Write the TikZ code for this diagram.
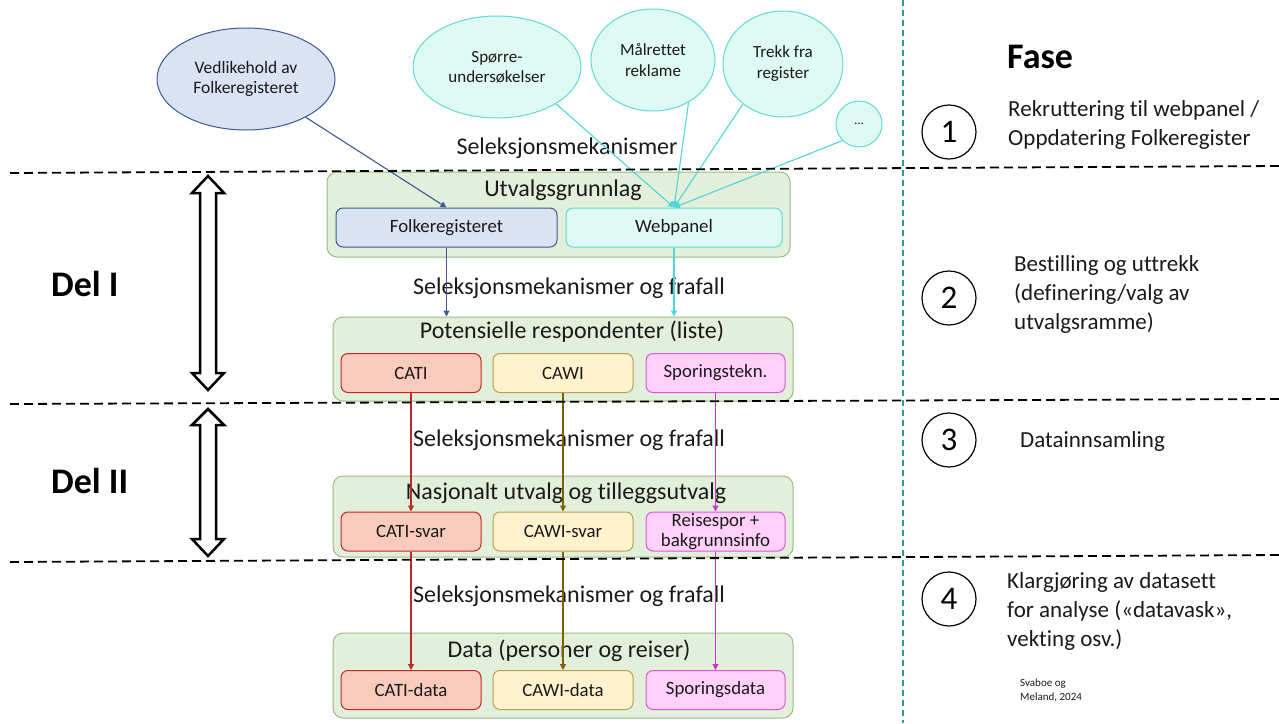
\documentclass[tikz,border=0pt]{standalone}
\usepackage{fontspec}
\setmainfont{Carlito}[Ligatures=NoCommon]
\usetikzlibrary{arrows.meta,shapes.geometric}
\definecolor{grpfill}{HTML}{E2EFDA}
\definecolor{grpdraw}{HTML}{9CB987}
\definecolor{bluefill}{HTML}{DAE3F3}
\definecolor{bluedraw}{HTML}{3B5A94}
\definecolor{tealfill}{HTML}{DFFAF3}
\definecolor{tealdraw}{HTML}{5EDAD8}
\definecolor{tealarrow}{HTML}{4FD6D6}
\definecolor{catifill}{HTML}{F8CBBD}
\definecolor{catidraw}{HTML}{C0282A}
\definecolor{cawifill}{HTML}{FFF2CC}
\definecolor{cawidraw}{HTML}{B8A050}
\definecolor{cawiarrow}{HTML}{7F6000}
\definecolor{sporfill}{HTML}{FFD0FA}
\definecolor{spordraw}{HTML}{E055E0}
\definecolor{sporarrow}{HTML}{CC33CC}
\definecolor{vline}{HTML}{2E9B9B}
\definecolor{txt}{HTML}{1A1A1A}
\begin{document}
\begin{tikzpicture}[x=1pt,y=-1pt,
  grp/.style={draw=grpdraw, fill=grpfill, rounded corners=10pt, line width=1pt, minimum width=460pt, inner sep=0pt},
  subbox/.style={rounded corners=7pt, line width=1pt, minimum height=39pt, inner sep=0pt, font=\fontsize{18.8}{19.5}\selectfont, text=txt, align=center},
  ttl/.style={font=\fontsize{24}{28}\selectfont, text=txt, inner sep=0pt},
  bub/.style={ellipse, line width=1pt, inner sep=0pt, align=center, text=txt},
  arr/.style={line width=1.1pt, -{Triangle[length=6pt,width=6pt]}},
  phase/.style={font=\fontsize{23}{29}\selectfont, text=txt, align=left, anchor=west, inner sep=0pt},
  num/.style={circle, draw, line width=1.2pt, minimum size=54pt, inner sep=0pt, font=\fontsize{33}{33}\selectfont},
  sepline/.style={line width=1.8pt, dash pattern=on 9pt off 5pt},
  dbl/.style={line width=2.5pt, fill=white, line join=miter}
]
\useasboundingbox (0,0) rectangle (1279,723);

% vertical separator
\coordinate (vt) at (903,0);
\coordinate (vb) at (903,723);
\draw[vline, line width=2pt, dash pattern=on 6pt off 4pt] (vt) -- (vb);

% bubbles
\node[bub, draw=bluedraw, fill=bluefill, minimum width=178pt, minimum height=102pt, font=\fontsize{17.5}{19.5}\selectfont] (vedl) at (246,79) {Vedlikehold av\\Folkeregisteret};
\node[bub, draw=tealdraw, fill=tealfill, minimum width=168pt, minimum height=102pt, font=\fontsize{17}{20}\selectfont] (spor) at (497,67) {Spørre-\\undersøkelser};
\node[bub, draw=tealdraw, fill=tealfill, minimum width=124pt, minimum height=102pt, font=\fontsize{17}{21}\selectfont] (maal) at (653,60) {Målrettet\\reklame};
\node[bub, draw=tealdraw, fill=tealfill, minimum width=120pt, minimum height=106pt, font=\fontsize{17}{21}\selectfont] (trekk) at (783,64) {Trekk fra\\register};
\node[bub, draw=tealdraw, fill=tealfill, minimum width=46pt, minimum height=46pt, font=\fontsize{13}{13}\selectfont] (dots) at (859,124) {\dots};

\node[ttl] (selA) at (567,148) {Seleksjonsmekanismer};

% group 1
\node[grp, minimum width=463pt, minimum height=85pt] (g1) at (558.5,214.5) {};
\node[ttl] (t1) at (563,190) {Utvalgsgrunnlag};
\node[subbox, draw=bluedraw, fill=bluefill, minimum width=221pt] (folk) at (446.5,227.5) {Folkeregisteret};
\node[subbox, draw=tealdraw, fill=tealfill, minimum width=216pt] (web) at (674,227.5) {Webpanel};

\node[ttl] (selB) at (569,288) {Seleksjonsmekanismer og frafall};

% group 2
\node[grp, minimum height=84pt] (g2) at (563,359) {};
\node[ttl] (t2) at (572,332) {Potensielle respondenter (liste)};
\node[subbox, draw=catidraw, fill=catifill, minimum width=140pt] (cati) at (411,373) {CATI};
\node[subbox, draw=cawidraw, fill=cawifill, minimum width=140pt] (cawi) at (563,373) {CAWI};
\node[subbox, draw=spordraw, fill=sporfill, minimum width=139pt] (sptk) at (715.5,373) {Sporingstekn.};

\node[ttl] (selC) at (569,440) {Seleksjonsmekanismer og frafall};

% group 3
\node[grp, minimum height=81pt] (g3) at (563,516.5) {};
\node[ttl] (t3) at (566,493) {Nasjonalt utvalg og tilleggsutvalg};
\node[subbox, draw=catidraw, fill=catifill, minimum width=140pt] (catis) at (411,531.5) {CATI-svar};
\node[subbox, draw=cawidraw, fill=cawifill, minimum width=140pt] (cawis) at (563,531.5) {CAWI-svar};
\node[subbox, draw=spordraw, fill=sporfill, minimum width=139pt] (reis) at (715.5,531.5) {Reisespor +\\bakgrunnsinfo};

\node[ttl] (selD) at (569,596) {Seleksjonsmekanismer og frafall};

% group 4
\node[grp, minimum height=85pt] (g4) at (563,675.5) {};
\node[ttl] (t4) at (569,651) {Data (personer og reiser)};
\node[subbox, draw=catidraw, fill=catifill, minimum width=140pt] (catid) at (411,690) {CATI-data};
\node[subbox, draw=cawidraw, fill=cawifill, minimum width=140pt] (cawid) at (563,690) {CAWI-data};
\node[subbox, draw=spordraw, fill=sporfill, minimum width=139pt] (spd) at (715.5,690) {Sporingsdata};

% connectors
\draw[arr, bluedraw] (vedl) -- (folk.north);
\draw[arr, tealarrow] (spor.-32) -- (web.north);
\draw[arr, tealarrow] (maal.-50) -- (web.north);
\draw[arr, tealarrow] (trekk.-135) -- (web.north);
\draw[arr, tealarrow] (dots.-135) -- (web.north);
\draw[arr, bluedraw] (folk.south) -- (folk.south |- g2.north);
\draw[arr, tealarrow] (web.south) -- (web.south |- g2.north);
\draw[arr, catidraw] (cati.south) -- (catis.north);
\draw[arr, cawiarrow] (cawi.south) -- (cawis.north);
\draw[arr, sporarrow] (sptk.south) -- (reis.north);
\draw[arr, catidraw] (catis.south) -- (catid.north);
\draw[arr, cawiarrow] (cawis.south) -- (cawid.north);
\draw[arr, sporarrow] (reis.south) -- (spd.north);

% horizontal separators
\coordinate (h1a) at (10,173); \coordinate (h1b) at (1279,166);
\coordinate (h2a) at (10,404); \coordinate (h2b) at (1279,399);
\coordinate (h3a) at (10,562); \coordinate (h3b) at (1279,555);
\draw[sepline] (h1a) -- (h1b);
\draw[sepline] (h2a) -- (h2b);
\draw[sepline] (h3a) -- (h3b);

% double arrows
\draw[dbl] (208,176) -- (224,193) -- (216,193) -- (216,373) -- (224,373) -- (208,390) -- (192,373) -- (200,373) -- (200,193) -- (192,193) -- cycle;
\draw[dbl] (208,409) -- (224,425) -- (216,425) -- (216,539) -- (224,539) -- (208,556) -- (192,539) -- (200,539) -- (200,425) -- (192,425) -- cycle;

\node[font=\fontsize{36}{36}\selectfont\bfseries, anchor=west, inner sep=0pt] (del1) at (51,284) {Del I};
\node[font=\fontsize{36}{36}\selectfont\bfseries, anchor=west, inner sep=0pt] (del2) at (51,481) {Del II};

% right column
\node[font=\fontsize{36}{36}\selectfont\bfseries, anchor=west, inner sep=0pt] (fase) at (1007,57) {Fase};
\node[num] (n1) at (949,132) {1};
\node[num] (n2) at (949,298) {2};
\node[num] (n3) at (949,440) {3};
\node[num] (n4) at (949,599) {4};
\node[phase] (p1) at (1008,125) {Rekruttering til webpanel /\\Oppdatering Folkeregister};
\node[phase] (p2) at (1014,294) {Bestilling og uttrekk\\(definering/valg av\\utvalgsramme)};
\node[phase] (p3) at (1020,441) {Datainnsamling};
\node[phase] (p4) at (1007,611) {Klargjøring av datasett\\for analyse («datavask»,\\vekting osv.)};
\node[font=\fontsize{11}{14}\selectfont, align=left, anchor=west, inner sep=0pt, text=txt] (src) at (1020,690) {Svaboe og\\Meland, 2024};
\end{tikzpicture}
\end{document}
